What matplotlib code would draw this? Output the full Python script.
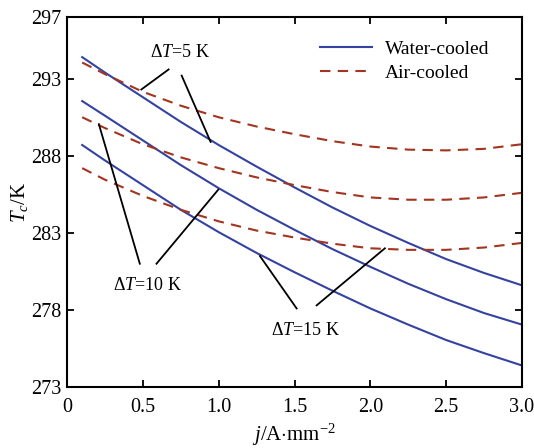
import numpy as np
import matplotlib
matplotlib.use("Agg")
import matplotlib.pyplot as plt

plt.rcParams['font.family'] = ['Liberation Serif', 'DejaVu Serif']
plt.rcParams['mathtext.fontset'] = 'custom'
plt.rcParams['mathtext.rm'] = 'Liberation Serif'
plt.rcParams['mathtext.it'] = 'Liberation Serif:italic'

# current density j (A/mm^2)
j = [0.1, 0.25, 0.5, 0.75, 1.0, 1.25, 1.5, 1.75, 2.0, 2.25, 2.5, 2.75, 3.0]

# water-cooled Tc for dT = 5, 10, 15 K
water_5 = [294.4, 293.4, 291.8, 290.2, 288.7, 287.3, 285.95, 284.65, 283.45, 282.35, 281.3, 280.4, 279.6]
water_10 = [291.55, 290.6, 289.0, 287.4, 285.9, 284.5, 283.2, 281.95, 280.8, 279.7, 278.7, 277.8, 277.05]
water_15 = [288.7, 287.7, 286.1, 284.5, 283.05, 281.7, 280.45, 279.25, 278.1, 277.05, 276.05, 275.2, 274.4]

# air-cooled Tc for dT = 5, 10, 15 K
air_5 = [294.05, 293.3, 292.15, 291.25, 290.5, 289.9, 289.4, 288.95, 288.6, 288.4, 288.35, 288.45, 288.75]
air_10 = [290.5, 289.8, 288.75, 287.9, 287.2, 286.6, 286.1, 285.65, 285.3, 285.15, 285.15, 285.3, 285.6]
air_15 = [287.2, 286.45, 285.4, 284.5, 283.75, 283.15, 282.7, 282.3, 282.0, 281.9, 281.9, 282.05, 282.35]

xticks = [0, 0.5, 1.0, 1.5, 2.0, 2.5, 3.0]
xticklabels = ['0', '0.5', '1.0', '1.5', '2.0', '2.5', '3.0']
yticks = [273, 278, 283, 288, 293, 297]

blue = '#3442a0'
red = '#a3341f'

fig = plt.figure(figsize=(5.34, 4.48), dpi=100)
ax = fig.add_axes([0.1255, 0.136, 0.852, 0.826])

for k, (w, a) in enumerate([(water_5, air_5), (water_10, air_10), (water_15, air_15)]):
    ax.plot(j, w, color=blue, lw=1.5, label='Water-cooled' if k == 0 else None)
    ax.plot(j, a, color=red, lw=1.5, ls=(0, (5, 3.5)), label='Air-cooled' if k == 0 else None)

# annotation leader lines
leaders = [
    ((0.67, 293.6), (0.49, 292.3)),
    ((0.756, 293.2), (0.947, 288.9)),
    ((0.48, 281.0), (0.21, 290.05)),
    ((0.59, 281.0), (0.997, 285.8)),
    ((1.514, 278.1), (1.272, 281.5)),
    ((1.646, 278.3), (2.096, 282.0)),
]
for (x0, y0), (x1, y1) in leaders:
    ax.plot([x0, x1], [y0, y1], color='black', lw=1.3)

ax.text(0.745, 294.7, r'$\Delta T$=5 K', fontsize=13, ha='center', va='center')
ax.text(0.534, 279.6, r'$\Delta T$=10 K', fontsize=13, ha='center', va='center')
ax.text(1.575, 276.7, r'$\Delta T$=15 K', fontsize=13, ha='center', va='center')

ax.set_xlim(0, 3.0)
ax.set_ylim(273, 297)
ax.set_xticks(xticks)
ax.set_xticklabels(xticklabels)
ax.set_yticks(yticks)
ax.tick_params(direction='in', top=True, right=True, labeltop=False, labelright=False,
               length=5, width=1.3, labelsize=14.5)
ax.tick_params(axis='x', pad=8)
ax.tick_params(axis='y', pad=4)
for s in ax.spines.values():
    s.set_linewidth(1.5)

ax.set_xlabel(r'$j$/A$\cdot$mm$^{-2}$', fontsize=15, labelpad=3)
ax.set_ylabel(r'$T_c$/K', fontsize=15, labelpad=1)

ax.legend(loc='upper right', bbox_to_anchor=(0.945, 0.959), frameon=False, fontsize=14,
          handlelength=2.7, handletextpad=0.65, borderaxespad=0, labelspacing=0.35)

fig.savefig('out.png', dpi=100)
